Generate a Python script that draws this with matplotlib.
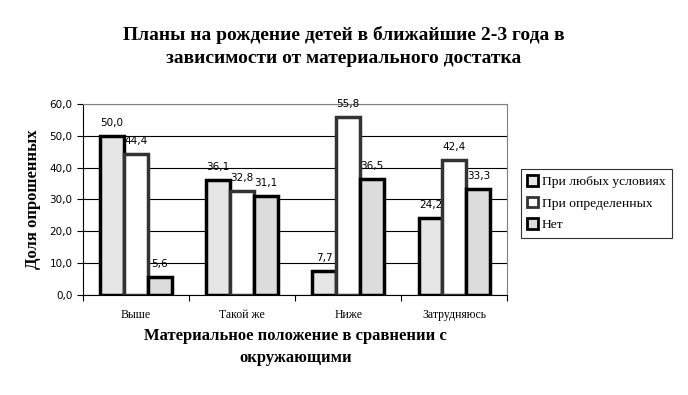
import matplotlib
matplotlib.use('Agg')
import matplotlib.pyplot as plt
import numpy as np

categories = ['Выше', 'Такой же', 'Ниже', 'Затрудняюсь']
series_names = ['При любых условиях', 'При определенных', 'Нет']
any_conditions = [50.0, 36.1, 7.7, 24.2]
certain_conditions = [44.4, 32.8, 55.8, 42.4]
no_plans = [5.6, 31.1, 36.5, 33.3]

fig = plt.figure(figsize=(6.88, 3.95), dpi=100)
ax = fig.add_axes([0.1206, 0.253, 0.617, 0.484])

x = np.arange(len(categories))
w = 0.225
faces = ['#e6e6e6', '#ffffff', '#dcdcdc']
edges = ['#000000', '#333333', '#000000']
values = [any_conditions, certain_conditions, no_plans]

ax.set_axisbelow(True)
ax.grid(axis='y', color='black', linewidth=0.8)
for i, vals in enumerate(values):
    bars = ax.bar(x + (i - 1) * w, vals, w, color=faces[i], edgecolor=edges[i],
                  linewidth=2.5, label=series_names[i], zorder=3)
    for b, v in zip(bars, vals):
        ax.text(b.get_x() + b.get_width() / 2, v + 2.5, f'{v:.1f}'.replace('.', ','),
                ha='center', va='bottom', fontsize=7.5, family='DejaVu Sans', zorder=4)

ax.set_xlim(-0.5, 3.5)
ax.set_ylim(0, 60)
ax.set_yticks(np.arange(0, 61, 10))
ax.set_yticklabels([f'{t:.1f}'.replace('.', ',') for t in np.arange(0, 61, 10)],
                   fontsize=7.5, family='DejaVu Sans')
ax.set_xticks(np.arange(-0.5, 3.6, 1))
ax.set_xticklabels([])
ax.set_xticks(x, minor=True)
ax.set_xticklabels(categories, minor=True, fontsize=8.5, family='Liberation Serif')
ax.tick_params(axis='x', which='minor', length=0, pad=10)
ax.tick_params(axis='x', which='major', length=4, direction='out', color='black')
ax.tick_params(axis='y', length=4, direction='out')
ax.spines['top'].set_color('#808080')
ax.spines['right'].set_color('#808080')

ax.set_ylabel('Доля опрошенных', fontsize=12, fontweight='bold', family='Liberation Serif',
              labelpad=6)
ax.set_xlabel('Материальное положение в сравнении с\nокружающими', fontsize=12,
              fontweight='bold', family='Liberation Serif', labelpad=5, linespacing=1.5)
fig.suptitle('Планы на рождение детей в ближайшие 2-3 года в\nзависимости от материального достатка',
             fontsize=14, fontweight='bold', family='Liberation Serif', y=0.935, linespacing=1.5)

leg = ax.legend(loc='center left', bbox_to_anchor=(1.015, 0.48), frameon=True, fancybox=False,
                edgecolor='black', prop={'family': 'Liberation Serif', 'size': 9.7},
                handlelength=0.8, handleheight=0.8, handletextpad=0.3, borderpad=0.5,
                labelspacing=0.65)
leg.get_frame().set_linewidth(0.8)
for h in leg.legend_handles:
    h.set_linewidth(2)

fig.savefig('out.png', dpi=100)
